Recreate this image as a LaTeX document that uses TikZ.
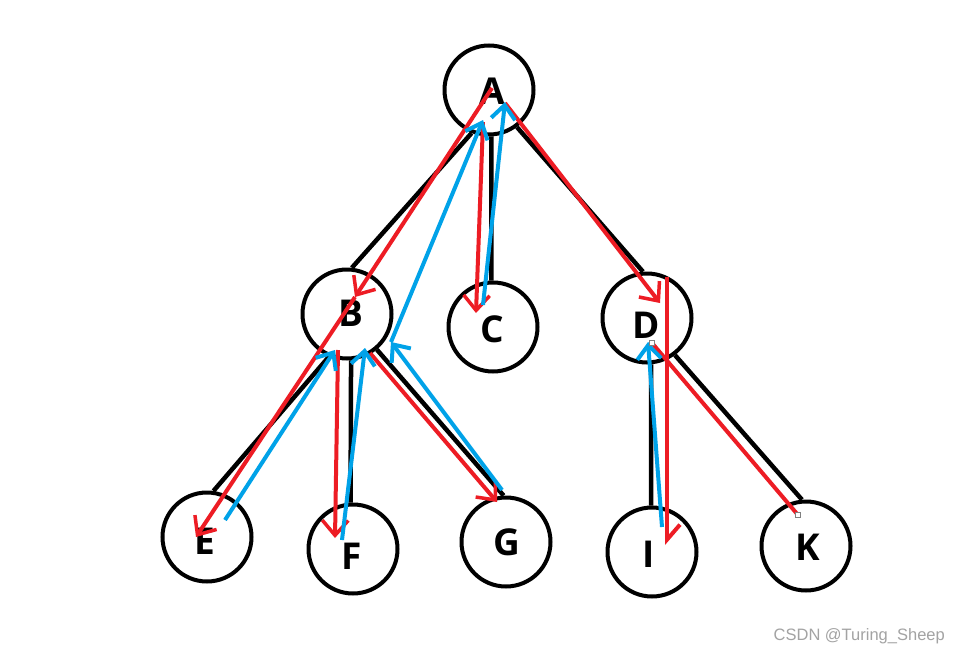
\documentclass[tikz,border=0pt]{standalone}
\usepackage{fontspec}
\setmainfont{Open Sans}
\newfontfamily\wmfont{Liberation Sans}
\usetikzlibrary{arrows.meta}
\definecolor{pred}{HTML}{ED1C24}
\definecolor{pblue}{HTML}{00A2E8}
\definecolor{wmgray}{HTML}{A3A3A3}
\begin{document}
\begin{tikzpicture}[x=1pt,y=-1pt,
  vtx/.style={circle,draw=black,line width=4pt,minimum size=89pt,inner sep=0pt},
  lbl/.style={font=\fontsize{37}{37}\selectfont\bfseries,inner sep=0pt,text height=26.4pt,text depth=0pt},
  treeedge/.style={line width=4.5pt,black},
  redarr/.style={pred,line width=4pt,-{Straight Barb[length=15pt,width=26pt,line width=3.5pt]}},
  redhalf/.style={pred,line width=4pt,-{Straight Barb[length=15pt,width=26pt,line width=4pt,left]}},
  redln/.style={pred,line width=4pt},
  bluearr/.style={pblue,line width=4pt,-{Straight Barb[length=14pt,width=24pt,line width=4pt]}},
  handle/.style={draw=gray,fill=white,line width=0.6pt,minimum size=4.5pt,inner sep=0pt}
]
\fill[white] (0,0) rectangle (961,653);
\useasboundingbox (0,0) rectangle (961,653);

% circles
\node[vtx] (A) at (489,90) {};
\node[vtx] (B) at (347,314) {};
\node[vtx] (C) at (493,327) {};
\node[vtx] (D) at (647,318) {};
\node[vtx] (E) at (207,537) {};
\node[vtx] (F) at (353,549) {};
\node[vtx] (G) at (506,542) {};
\node[vtx] (I) at (652,552) {};
\node[vtx] (K) at (806,546) {};

% tree edges
\draw[treeedge] (A.248) -- (B.84);
\draw[treeedge] (A.273) -- (C.92);
\draw[treeedge] (A.307) -- (D.95);
\draw[treeedge] (B.247) -- (E.82);
\draw[treeedge] (B.275) -- (F.93);
\draw[treeedge] (B.310) -- (G.93);
\draw[treeedge] (D.275) -- (I.91);
\draw[treeedge] (D.307) -- (K.95);

% letters
\node[lbl] (lA) at (492,91) {A};
\node[lbl] (lB) at (351,313) {B};
\node[lbl] (lC) at (492,329) {C};
\node[lbl] (lD) at (646,325) {D};
\node[lbl] (lE) at (205,541) {E};
\node[lbl] (lF) at (352,556) {F};
\node[lbl] (lG) at (507,542) {G};
\node[lbl] (lI) at (649,554) {I};
\node[lbl] (lK) at (808,547) {K};

% red path points
\coordinate (rA1) at (492,88);
\coordinate (rB1) at (355,297);
\coordinate (rE) at (196,537);
\coordinate (rA2) at (483,122);
\coordinate (rC) at (476,313);
\coordinate (rA3) at (505,103);
\coordinate (rD) at (660,303);
\coordinate (rD2) at (667,277);
\coordinate (rI) at (667,545);
\coordinate (rK) at (798,515);
\coordinate (rD3) at (652,343);
\coordinate (rB2) at (338,350);
\coordinate (rF) at (335,538);
\coordinate (rB3) at (370,353);
\coordinate (rG) at (497,502);

% blue path points
\coordinate (bE) at (225,520);
\coordinate (bB1) at (335,350);
\coordinate (bF) at (342,540);
\coordinate (bB2) at (365,348);
\coordinate (bG) at (502,490);
\coordinate (bBm) at (391,342);
\coordinate (bA1) at (483,120);
\coordinate (bC) at (483,305);
\coordinate (bA2) at (505,102);
\coordinate (bI) at (662,527);
\coordinate (bD) at (648,342);

% red traversal
\draw[redarr] (rA1) -- (rB1);
\draw[redarr] (rB1) -- (rE);
\draw[redarr] (rA2) -- (rC);
\draw[redarr] (rA3) -- (rD);
\draw[redhalf] (rD2) -- (rI);
\draw[redln] (rK) -- (rD3);
\draw[redarr] (rB2) -- (rF);
\draw[redarr] (rB3) -- (rG);

% blue returns
\draw[bluearr] (bE) -- (bB1);
\draw[bluearr] (bF) -- (bB2);
\draw[bluearr] (bG) -- (bBm);
\draw[bluearr] (bBm) -- (bA1);
\draw[bluearr] (bC) -- (bA2);
\draw[bluearr] (bI) -- (bD);

% selection handles
\node[handle] (h1) at (rD3) {};
\node[handle] (h2) at (rK) {};

% watermark
\node[font=\wmfont\fontsize{16.5}{16.5}\selectfont,text=wmgray,anchor=base east,inner sep=0pt] (wm) at (945,640) {CSDN @Turing\_Sheep};
\end{tikzpicture}
\end{document}
